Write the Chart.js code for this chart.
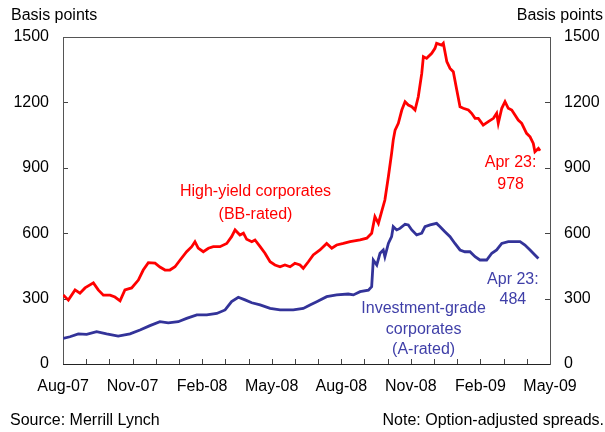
<!DOCTYPE html>
<html>
<head>
<meta charset="utf-8">
<script src="https://cdn.jsdelivr.net/npm/chart.js@4/dist/chart.umd.min.js"></script>
<style>
  html, body { margin: 0; padding: 0; background: #fff; }
  #wrap { width: 605px; height: 432px; position: relative; }
</style>
</head>
<body>
<div id="wrap"><canvas id="spreads" width="605" height="432"></canvas></div>
<script>
// x positions are months after Aug-07 (0 = Aug-07, 21 = May-09)
const monthLabels = ["Aug-07", "", "", "Nov-07", "", "", "Feb-08", "", "", "May-08", "", "",
  "Aug-08", "", "", "Nov-08", "", "", "Feb-09", "", "", "May-09"];
const yTicks = [0, 300, 600, 900, 1200, 1500];

const hyMonth = [0.01, 0.23, 0.52, 0.73, 0.95, 1.31, 1.52, 1.74, 2.03, 2.24, 2.46, 2.67, 2.96, 3.25,
  3.46, 3.68, 3.97, 4.18, 4.40, 4.61, 4.83, 5.05, 5.33, 5.55, 5.69, 5.83, 6.05, 6.27, 6.48, 6.77,
  7.06, 7.27, 7.42, 7.63, 7.78, 7.92, 8.14, 8.28, 8.50, 8.71, 8.93, 9.14, 9.36, 9.57, 9.79, 10.00,
  10.22, 10.36, 10.58, 10.79, 11.08, 11.37, 11.59, 11.80, 12.09, 12.38, 12.81, 13.10, 13.31, 13.45,
  13.60, 13.74, 13.88, 14.03, 14.17, 14.24, 14.32, 14.46, 14.61, 14.75, 14.89, 15.04, 15.18, 15.32,
  15.47, 15.54, 15.68, 15.90, 16.04, 16.11, 16.33, 16.40, 16.55, 16.69, 16.83, 16.98, 17.12, 17.26,
  17.48, 17.62, 17.77, 17.91, 18.12, 18.34, 18.56, 18.70, 18.77, 18.92, 19.06, 19.20, 19.35, 19.49,
  19.63, 19.78, 19.99, 20.14, 20.28, 20.35, 20.50, 20.57];
const hyValue = [316, 293, 340, 325, 349, 372, 340, 316, 316, 307, 290, 340, 349, 385,
  431, 465, 463, 445, 431, 431, 446, 477, 515, 538, 561, 532, 515, 531, 538, 538,
  553, 584, 615, 592, 600, 572, 561, 569, 538, 508, 469, 454, 446, 454, 446, 462,
  454, 439, 469, 500, 523, 553, 531, 546, 553, 561, 569, 577, 600, 676,
  645, 699, 752, 859, 966, 1027, 1073, 1104, 1165, 1203, 1188, 1180, 1165, 1226,
  1333, 1410, 1402, 1425, 1448, 1471, 1463, 1471, 1387, 1356, 1341, 1257, 1180, 1173,
  1165, 1150, 1127, 1127, 1096, 1112, 1127, 1150, 1104, 1173, 1203, 1173, 1165, 1142,
  1119, 1104, 1058, 1042, 1012, 974, 989, 978];

const igMonth = [0.01, 0.30, 0.66, 1.02, 1.45, 1.88, 2.38, 2.89, 3.32, 3.75, 4.18, 4.54, 4.97, 5.33,
  5.77, 6.20, 6.63, 6.99, 7.27, 7.56, 7.85, 8.14, 8.50, 8.93, 9.36, 9.93, 10.36, 10.65, 10.94,
  11.37, 11.80, 12.30, 12.52, 12.81, 13.17, 13.31, 13.38, 13.53, 13.67, 13.81, 13.88, 14.03, 14.17,
  14.24, 14.39, 14.53, 14.75, 14.89, 15.04, 15.25, 15.47, 15.61, 15.83, 16.11, 16.26, 16.47, 16.69,
  16.90, 17.12, 17.33, 17.55, 17.77, 17.98, 18.27, 18.49, 18.70, 18.92, 19.20, 19.49, 19.71, 19.92,
  20.14, 20.35, 20.50];
const igValue = [118, 125, 138, 136, 148, 138, 128, 138, 156, 176, 194, 189, 194, 209,
  225, 225, 232, 248, 286, 306, 294, 281, 271, 255, 248, 248, 255, 271, 286,
  309, 317, 321, 317, 332, 339, 355, 477, 454, 508, 523, 492, 553, 584,
  630, 615, 622, 641, 638, 615, 592, 600, 630, 638, 645, 630, 607, 584,
  553, 523, 515, 515, 492, 477, 477, 508, 523, 553, 561, 561, 561, 546,
  523, 500, 484];

const RED = "#ff0000";
const BLUE = "#333399";
const FONT = "'Liberation Sans', Arial, sans-serif";

// frame, inward tick marks and text labels
const decorations = {
  id: "decorations",
  beforeDatasetsDraw(chart) {
    const { ctx, chartArea: a, scales } = chart;
    ctx.save();
    ctx.strokeStyle = "#444";
    ctx.lineWidth = 1;
    ctx.beginPath();
    scales.x.ticks.forEach((t) => {
      const px = Math.round(scales.x.getPixelForValue(t.value)) + 0.5;
      ctx.moveTo(px, a.bottom);
      ctx.lineTo(px, a.bottom - 5);
    });
    scales.y.ticks.forEach((t) => {
      const py = Math.round(scales.y.getPixelForValue(t.value)) + 0.5;
      ctx.moveTo(a.left, py);
      ctx.lineTo(a.left + 5, py);
      ctx.moveTo(a.right, py);
      ctx.lineTo(a.right - 5, py);
    });
    ctx.stroke();
    ctx.strokeStyle = "#555";
    ctx.strokeRect(Math.round(a.left) + 0.5, Math.round(a.top) + 0.5,
      Math.round(a.right - a.left), Math.round(a.bottom - a.top));
    ctx.strokeStyle = "#222";
    ctx.beginPath();
    ctx.moveTo(a.left, Math.round(a.bottom) + 0.5);
    ctx.lineTo(a.right, Math.round(a.bottom) + 0.5);
    ctx.stroke();
    ctx.restore();
  },
  afterDraw(chart) {
    const { ctx, scales } = chart;
    const X = (m) => scales.x.getPixelForValue(m);
    const Y = (v) => scales.y.getPixelForValue(v);
    ctx.save();
    ctx.font = "16px " + FONT;
    ctx.textBaseline = "middle";
    ctx.fillStyle = "#000";
    ctx.textAlign = "left";
    ctx.fillText("Basis points", 11, 16);
    ctx.fillText("Source: Merrill Lynch", 10, 421);
    ctx.textAlign = "right";
    ctx.fillText("Basis points", 603, 16);
    ctx.fillText("Note: Option-adjusted spreads.", 604, 421);

    ctx.textAlign = "center";
    ctx.fillStyle = RED;
    ctx.fillText("High-yield corporates", X(8.3), Y(790));
    ctx.fillText("(BB-rated)", X(8.3), Y(685));
    ctx.fillText("Apr 23:", X(19.3), Y(922));
    ctx.fillText("978", X(19.3), Y(825));
    ctx.fillStyle = "#3f3fa8";
    ctx.fillText("Apr 23:", X(19.4), Y(386));
    ctx.fillText("484", X(19.4), Y(295));
    ctx.fillText("Investment-grade", X(15.55), Y(255));
    ctx.fillText("corporates", X(15.55), Y(157));
    ctx.fillText("(A-rated)", X(15.55), Y(65));
    ctx.restore();
  },
};

const toPoints = (xs, ys) => xs.map((m, i) => ({ x: m, y: ys[i] }));

const yAxis = (position, width) => ({
  position,
  min: 0,
  max: 1500,
  afterBuildTicks: (s) => { s.ticks = yTicks.map((v) => ({ value: v })); },
  afterFit: (s) => { s.width = width; },
  grid: { display: false, drawTicks: false },
  border: { display: false },
  ticks: {
    color: "#000",
    font: { family: FONT, size: 16 },
    padding: 14,
    callback: (v) => String(v),
  },
});

new Chart(document.getElementById("spreads").getContext("2d"), {
  type: "line",
  data: {
    datasets: [
      {
        label: "High-yield corporates (BB-rated)",
        data: toPoints(hyMonth, hyValue),
        borderColor: RED,
        borderWidth: 2.8,
        pointRadius: 0,
        tension: 0,
      },
      {
        label: "Investment-grade corporates (A-rated)",
        data: toPoints(igMonth, igValue),
        borderColor: BLUE,
        borderWidth: 2.8,
        pointRadius: 0,
        tension: 0,
      },
    ],
  },
  options: {
    responsive: false,
    animation: false,
    layout: { padding: { top: 37, left: 0, right: 0, bottom: 0 } },
    plugins: { legend: { display: false }, tooltip: { enabled: false } },
    scales: {
      x: {
        type: "linear",
        min: 0,
        max: 21,
        afterBuildTicks: (s) => { s.ticks = monthLabels.map((_, i) => ({ value: i })); },
        afterFit: (s) => { s.height = 68; },
        grid: { display: false, drawTicks: false },
        border: { display: false },
        ticks: {
          color: "#000",
          font: { family: FONT, size: 16 },
          padding: 13,
          autoSkip: false,
          maxRotation: 0,
          callback: (v, i) => monthLabels[i],
        },
      },
      y: yAxis("left", 63),
      y2: yAxis("right", 55),
    },
  },
  plugins: [decorations],
});
</script>
</body>
</html>
